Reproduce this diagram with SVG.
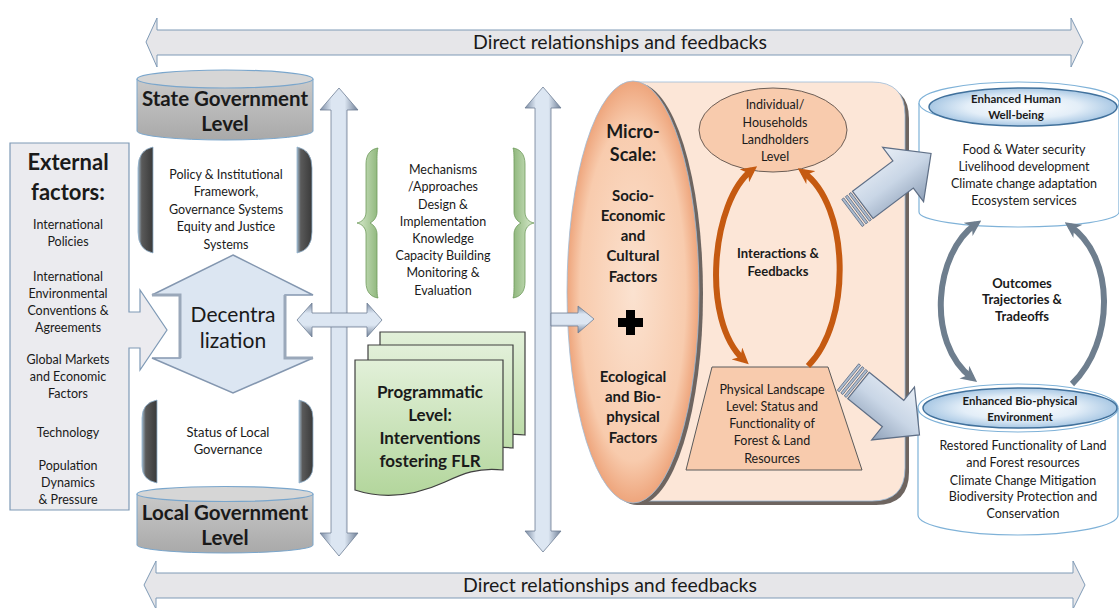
<svg xmlns="http://www.w3.org/2000/svg" width="1119" height="608" viewBox="0 0 1119 608">
<defs>
<style>
text{font-family:Lato,"Liberation Sans",sans-serif;fill:#1a1a1a;text-anchor:middle}
.t{font-size:12.5px}
.b{font-weight:bold}
.strip{fill:#aebdd0;stroke:#5f6f86;stroke-width:0.8}
</style>
<linearGradient id="gv" x1="0" y1="0" x2="1" y2="0">
<stop offset="0" stop-color="#7b8ba3"/><stop offset="0.3" stop-color="#dce6f2"/><stop offset="0.65" stop-color="#dce6f2"/><stop offset="1" stop-color="#6f7f96"/>
</linearGradient>
<linearGradient id="gh" x1="0" y1="0" x2="0" y2="1">
<stop offset="0" stop-color="#7b8ba3"/><stop offset="0.3" stop-color="#dce6f2"/><stop offset="0.65" stop-color="#dce6f2"/><stop offset="1" stop-color="#6f7f96"/>
</linearGradient>
<linearGradient id="gcyl" x1="0" y1="0" x2="0" y2="1">
<stop offset="0" stop-color="#c9c9c9"/><stop offset="1" stop-color="#a9a9a9"/>
</linearGradient>
<linearGradient id="gbr" x1="0" y1="0" x2="1" y2="0">
<stop offset="0" stop-color="#9fb6c8"/><stop offset="0.25" stop-color="#5a5a5a"/><stop offset="1" stop-color="#3a3a3a"/>
</linearGradient>
<linearGradient id="gdoc" x1="0" y1="0" x2="0" y2="1">
<stop offset="0" stop-color="#e2f0d9"/><stop offset="1" stop-color="#b3d69c"/>
</linearGradient>
<linearGradient id="ggreen" x1="0" y1="0" x2="1" y2="0">
<stop offset="0" stop-color="#d7e9cc"/><stop offset="1" stop-color="#8fb77c"/>
</linearGradient>
<radialGradient id="gell" cx="0.5" cy="0.5" r="0.5">
<stop offset="0" stop-color="#fbe2d0"/><stop offset="0.8" stop-color="#f8cbad"/><stop offset="1" stop-color="#eea57c"/>
</radialGradient>
<radialGradient id="gblue" cx="0.5" cy="0.5" r="0.5">
<stop offset="0" stop-color="#ffffff"/><stop offset="0.6" stop-color="#e3eef8"/><stop offset="1" stop-color="#a9c8e4"/>
</radialGradient>
<linearGradient id="gblk" x1="0" y1="0" x2="0" y2="1">
<stop offset="0" stop-color="#e8eef6"/><stop offset="0.5" stop-color="#c9d6e6"/><stop offset="1" stop-color="#8ea0b8"/>
</linearGradient>
<marker id="ho" viewBox="0 0 10 10" refX="6" refY="5" markerWidth="16" markerHeight="16" markerUnits="userSpaceOnUse" orient="auto-start-reverse">
<path d="M0,0 L10,5 L0,10 L3,5 Z" fill="#c55a11"/>
</marker>
<marker id="hg" viewBox="0 0 10 10" refX="6" refY="5" markerWidth="16" markerHeight="16" markerUnits="userSpaceOnUse" orient="auto-start-reverse">
<path d="M0,0 L10,5 L0,10 L3,5 Z" fill="#6e7e8e"/>
</marker>
</defs>

<g id="external-factors">
<path d="M10,143 H129 V312 H140 V290 L167,330 L140,370 V348 H129 V510 H10 Z" fill="#ebebef" stroke="#7f9ab6" stroke-width="1.2"/>
<text class="b" x="68" y="170" font-size="22">External</text>
<text class="b" x="68" y="200" font-size="22">factors:</text>
<text class="t" x="68" y="229">International</text>
<text class="t" x="68" y="246">Policies</text>
<text class="t" x="68" y="281">International</text>
<text class="t" x="68" y="298">Environmental</text>
<text class="t" x="68" y="315">Conventions &amp;</text>
<text class="t" x="68" y="332">Agreements</text>
<text class="t" x="68" y="364">Global Markets</text>
<text class="t" x="68" y="381">and Economic</text>
<text class="t" x="68" y="398">Factors</text>
<text class="t" x="68" y="437">Technology</text>
<text class="t" x="68" y="470">Population</text>
<text class="t" x="68" y="487">Dynamics</text>
<text class="t" x="68" y="504">&amp; Pressure</text>
</g>

<g id="state-government">
<path d="M137,79 V131 A88,9 0 0 0 313,131 V79 Z" fill="url(#gcyl)" stroke="#7aa6cc" stroke-width="1"/>
<ellipse cx="225" cy="79" rx="88" ry="9" fill="#d6d6d6" stroke="#7aa6cc" stroke-width="1.2"/>
<text class="b" x="225" y="106" font-size="20.5">State Government</text>
<text class="b" x="225" y="131" font-size="20.5">Level</text>
</g>

<g id="policy-framework">
<path d="M153,147 Q138,150 138,168 V232 Q138,250 153,253 Z" fill="url(#gbr)" stroke="#8fb0cc" stroke-width="0.8"/>
<path d="M297,147 Q312,150 312,168 V232 Q312,250 297,253 Z" fill="url(#gbr)" stroke="#8fb0cc" stroke-width="0.8"/>
<text class="t" x="226" y="179">Policy &amp; Institutional</text>
<text class="t" x="226" y="196">Framework,</text>
<text class="t" x="226" y="214">Governance Systems</text>
<text class="t" x="226" y="231">Equity and Justice</text>
<text class="t" x="226" y="249">Systems</text>
</g>

<g id="decentralization">
<polygon points="233,255 313,295 285,295 285,358 313,358 233,393 152,358 180,358 180,295 152,295" fill="#dce6f2" stroke="#8497b0" stroke-width="1.5"/>
<polyline points="180,358 180,295 152,295" fill="none" stroke="#9aa8ba" stroke-width="3"/>
<polyline points="285,295 285,358 313,358" fill="none" stroke="#9aa8ba" stroke-width="3"/>
<text x="233" y="322" font-size="21">Decentra</text>
<text x="233" y="348" font-size="21">lization</text>
</g>

<g id="local-governance">
<path d="M157,400 Q142,403 142,418 V466 Q142,480 157,483 Z" fill="url(#gbr)" stroke="#8fb0cc" stroke-width="0.8"/>
<path d="M299,400 Q313,403 313,418 V466 Q313,480 299,483 Z" fill="url(#gbr)" stroke="#8fb0cc" stroke-width="0.8"/>
<text x="228" y="437" font-size="13">Status of Local</text>
<text x="228" y="454" font-size="13">Governance</text>
</g>

<g id="local-government">
<path d="M137,494 V545 A88,8 0 0 0 313,545 V494 Z" fill="url(#gcyl)" stroke="#7aa6cc" stroke-width="1"/>
<ellipse cx="225" cy="494" rx="88" ry="7.5" fill="#d6d6d6" stroke="#7aa6cc" stroke-width="1.2"/>
<text class="b" x="225" y="520" font-size="20.5">Local Government</text>
<text class="b" x="225" y="545" font-size="20.5">Level</text>
</g>

<g id="mechanisms">
<path d="M378,148 C371,149 366,154 366,164 L366,212 C366,218 362,222 357,223 C362,224 366,228 366,234 L366,282 C366,292 371,297 378,298 C377,295 377,290 377,282 L377,234 C377,229 374,225 370,223 C374,221 377,217 377,212 L377,164 C377,156 377,151 378,148 Z" fill="url(#ggreen)" stroke="#6f9a5c" stroke-width="0.8"/>
<path d="M378,148 C371,149 366,154 366,164 L366,212 C366,218 362,222 357,223 C362,224 366,228 366,234 L366,282 C366,292 371,297 378,298 C377,295 377,290 377,282 L377,234 C377,229 374,225 370,223 C374,221 377,217 377,212 L377,164 C377,156 377,151 378,148 Z" fill="url(#ggreen)" stroke="#6f9a5c" stroke-width="0.8" transform="translate(891,0) scale(-1,1)"/>
<text class="t" x="443" y="174">Mechanisms</text>
<text class="t" x="443" y="191">/Approaches</text>
<text class="t" x="443" y="209">Design &amp;</text>
<text class="t" x="443" y="226">Implementation</text>
<text class="t" x="443" y="243">Knowledge</text>
<text class="t" x="443" y="260">Capacity Building</text>
<text class="t" x="443" y="277">Monitoring &amp;</text>
<text class="t" x="443" y="295">Evaluation</text>
</g>

<g id="programmatic">
<path d="M380,332 H525 V435 C500,432 485,440 470,448 C440,462 410,466 380,458 Z" fill="url(#gdoc)" stroke="#404040" stroke-width="1.2"/>
<path d="M368,345 H513 V448 C488,445 473,453 458,461 C428,475 398,479 368,471 Z" fill="url(#gdoc)" stroke="#404040" stroke-width="1.2"/>
<path d="M355,360 H503 V470 C478,467 462,474 445,482 C412,497 382,499 355,490 Z" fill="url(#gdoc)" stroke="#404040" stroke-width="1.2"/>
<text class="b" x="430" y="398" font-size="17">Programmatic</text>
<text class="b" x="430" y="421" font-size="17">Level:</text>
<text class="b" x="430" y="444" font-size="17">Interventions</text>
<text class="b" x="430" y="467" font-size="17">fostering FLR</text>
</g>

<g id="micro-scale">
<path d="M637,86 H876 Q909,86 909,119 V472 Q909,505 876,505 H637 Z" fill="#6e6560"/>
<path d="M633,82 H872 Q905,82 905,115 V468 Q905,501 872,501 H633 Z" fill="#fce6d7" stroke="#9dbbd8" stroke-width="0.8"/>
<ellipse cx="637" cy="294" rx="66" ry="211" fill="#6e6560"/>
<ellipse cx="633" cy="292" rx="66" ry="211" fill="url(#gell)" stroke="#9dbbd8" stroke-width="0.8"/>
<text class="b" x="633" y="138" font-size="18">Micro-</text>
<text class="b" x="633" y="161" font-size="18">Scale:</text>
<text class="b" x="633" y="201" font-size="15">Socio-</text>
<text class="b" x="633" y="221" font-size="15">Economic</text>
<text class="b" x="633" y="241" font-size="15">and</text>
<text class="b" x="633" y="261" font-size="15">Cultural</text>
<text class="b" x="633" y="282" font-size="15">Factors</text>
<path d="M626,310 H635 V318 H643 V327 H635 V335 H626 V327 H618 V318 H626 Z" fill="#000"/>
<text class="b" x="633" y="382" font-size="15">Ecological</text>
<text class="b" x="633" y="402" font-size="15">and Bio-</text>
<text class="b" x="633" y="422" font-size="15">physical</text>
<text class="b" x="633" y="443" font-size="15">Factors</text>
</g>

<g id="individual-level">
<ellipse cx="773" cy="130" rx="74" ry="42" fill="#f8cbad" stroke="#6b5d55" stroke-width="1"/>
<text class="t" x="775" y="109">Individual/</text>
<text class="t" x="775" y="127">Households</text>
<text class="t" x="775" y="144">Landholders</text>
<text class="t" x="775" y="161">Level</text>
</g>

<g id="interactions">
<text class="b" x="778" y="258" font-size="13">Interactions &amp;</text>
<text class="b" x="778" y="276" font-size="13">Feedbacks</text>
</g>

<g id="physical-landscape">
<polygon points="712,367 828,367 862,470 686,470" fill="#f8cbad" stroke="#5a5a5a" stroke-width="1"/>
<text class="t" x="772" y="394">Physical Landscape</text>
<text class="t" x="772" y="411">Level: Status and</text>
<text class="t" x="772" y="428">Functionality of</text>
<text class="t" x="772" y="445">Forest &amp; Land</text>
<text class="t" x="772" y="463">Resources</text>
</g>

<g id="human-wellbeing">
<path d="M919,103 V212 A100,15 0 0 0 1119,212 V103" fill="#ffffff" stroke="#7fb2d8" stroke-width="1.2"/>
<ellipse cx="1019" cy="103" rx="100" ry="21" fill="#ffffff" stroke="#7fb2d8" stroke-width="1.2"/>
<ellipse cx="1023" cy="107" rx="94" ry="19" fill="url(#gblue)" stroke="#41719c" stroke-width="1.5"/>
<text class="b" x="1016" y="103" font-size="11.5">Enhanced Human</text>
<text class="b" x="1016" y="119" font-size="11.5">Well-being</text>
<text class="t" x="1024" y="154">Food &amp; Water security</text>
<text class="t" x="1024" y="171">Livelihood development</text>
<text class="t" x="1024" y="188">Climate change adaptation</text>
<text class="t" x="1024" y="205">Ecosystem services</text>
</g>

<g id="outcomes">
<text class="b" x="1022" y="288" font-size="13">Outcomes</text>
<text class="b" x="1022" y="304" font-size="13">Trajectories &amp;</text>
<text class="b" x="1022" y="321" font-size="13">Tradeoffs</text>
</g>

<g id="biophysical-environment">
<path d="M918,408 V515 A100,20 0 0 0 1118,515 V408" fill="#ffffff" stroke="#7fb2d8" stroke-width="1.2"/>
<ellipse cx="1018" cy="408" rx="100" ry="24" fill="#ffffff" stroke="#7fb2d8" stroke-width="1.2"/>
<ellipse cx="1020" cy="408" rx="97" ry="20" fill="url(#gblue)" stroke="#41719c" stroke-width="1.5"/>
<text class="b" x="1020" y="405" font-size="11.5">Enhanced Bio-physical</text>
<text class="b" x="1020" y="421" font-size="11.5">Environment</text>
<text class="t" x="1023" y="450">Restored Functionality of Land</text>
<text class="t" x="1023" y="467">and Forest resources</text>
<text class="t" x="1023" y="485">Climate Change Mitigation</text>
<text class="t" x="1023" y="501">Biodiversity Protection and</text>
<text class="t" x="1023" y="518">Conservation</text>
</g>

<g id="connectors">
<g id="top-arrow">
<polygon points="146,42 157,18 157,30 1071,30 1071,18 1083,42 1071,67 1071,55 157,55 157,67" fill="#e6e6e9" stroke="#7f9ab6" stroke-width="1"/>
<text x="620" y="49" font-size="19.5">Direct relationships and feedbacks</text>
</g>
<g id="bottom-arrow">
<polygon points="144,585 156,561 156,573 1073,573 1073,561 1085,585 1073,609 1073,598 156,598 156,609" fill="#e6e6e9" stroke="#7f9ab6" stroke-width="1"/>
<text x="610" y="592" font-size="19.5">Direct relationships and feedbacks</text>
</g>
<polygon id="vert-arrow-1" points="339,88 320,110 331,110 331,533 320,533 339,556 358,533 347,533 347,110 358,110" fill="url(#gv)" stroke="#6f7f96" stroke-width="0.8"/>
<polygon id="cross-arrow" points="297,320 312,303 312,313 367,313 367,303 382,320 367,337 367,327 312,327 312,337" fill="url(#gh)" stroke="#6f7f96" stroke-width="0.8"/>
<polygon id="vert-arrow-2" points="543,87 525,108 535,108 535,531 525,531 543,552 561,531 551,531 551,108 561,108" fill="url(#gv)" stroke="#6f7f96" stroke-width="0.8"/>
<polygon id="micro-arrow" points="551,313 578,313 578,306 594,319 578,333 578,326 551,326" fill="url(#gh)" stroke="#6f7f96" stroke-width="0.8"/>
<path d="M752,170 C712,200 700,320 744,360" fill="none" stroke="#c55a11" stroke-width="6" marker-start="url(#ho)" marker-end="url(#ho)"/>
<path d="M808,366 C852,322 850,205 803,172" fill="none" stroke="#c55a11" stroke-width="6" marker-end="url(#ho)"/>
<path d="M976,224 C935,252 925,342 972,378" fill="none" stroke="#6e7e8e" stroke-width="6" marker-start="url(#hg)" marker-end="url(#hg)"/>
<path d="M1072,384 C1115,342 1115,257 1070,226" fill="none" stroke="#6e7e8e" stroke-width="6" marker-end="url(#hg)"/>
<g id="arrow-to-human" transform="translate(852,213) rotate(-37)">
<rect class="strip" x="0" y="-17" width="2.5" height="34"/>
<rect class="strip" x="4.5" y="-17" width="2.5" height="34"/>
<rect class="strip" x="9" y="-17" width="2.5" height="34"/>
<polygon points="13.5,-17 64,-17 64,-34 99,0 64,34 64,17 13.5,17" fill="url(#gblk)" stroke="#5f6f86" stroke-width="1.2"/>
</g>
<g id="arrow-to-biophysical" transform="translate(848,377) rotate(39)">
<rect class="strip" x="0" y="-17" width="2.5" height="34"/>
<rect class="strip" x="4.5" y="-17" width="2.5" height="34"/>
<rect class="strip" x="9" y="-17" width="2.5" height="34"/>
<polygon points="13.5,-17 58,-17 58,-34 92,0 58,34 58,17 13.5,17" fill="url(#gblk)" stroke="#5f6f86" stroke-width="1.2"/>
</g>
</g>
</svg>
